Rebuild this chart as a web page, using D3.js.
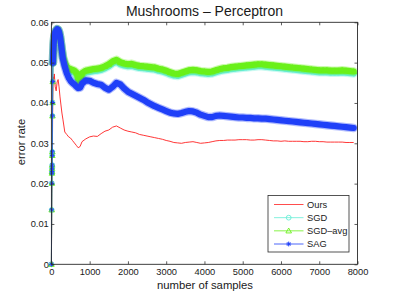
<!DOCTYPE html>
<html><head><meta charset="utf-8">
<script src="https://cdn.jsdelivr.net/npm/d3@7"></script>
<style>
html,body{margin:0;padding:0;background:#fff;}
text{font-family:"Liberation Sans",Arial,Helvetica,sans-serif;fill:#1a1a1a;}
</style></head>
<body><svg id="c" width="395" height="297"></svg>
<script>
const title = "Mushrooms – Perceptron";
const xLabel = "number of samples";
const yLabel = "error rate";
const xTicks = [0,1000,2000,3000,4000,5000,6000,7000,8000];
const yTicks = [0,0.01,0.02,0.03,0.04,0.05,0.06];
const seriesNames = ["Ours","SGD","SGD–avg","SAG"];

const samples = [0,8,12,15,17,19,21,23,25,28,31,35,40,
 50,60,75,
 100,125,150,175,200,225,250,275,300,
 350,400,450,500,550,600,650,700,750,800,
 900,1000,1100,1200,1300,1400,1500,1600,1700,1800,1900,2000,
 2100,2200,2300,2400,2500,2600,2700,2800,2900,3000,
 3100,3200,3300,3400,3500,3600,3700,3800,3900,4000,
 4100,4200,4300,4400,4500,4600,4700,4800,4900,5000,
 5100,5200,5300,5400,5500,5600,5700,5800,5900,6000,
 6100,6200,6300,6400,6500,6600,6700,6800,6900,7000,
 7100,7200,7300,7400,7500,7600,7700,7800,7900];

const ours = [0,0.0120,0.0176,0.0190,0.0205,0.0215,0.0230,0.0250,0.0270,0.0310,0.0350,0.0400,0.0440,
 0.0465,0.0450,0.0472,
 0.0440,0.0430,0.0452,0.0458,0.0440,0.0415,0.0395,0.0375,0.0360,
 0.0328,0.0322,0.0316,0.0313,0.0307,0.0301,0.0295,0.0289,0.0292,0.0304,
 0.0311,0.0316,0.0318,0.0317,0.0324,0.0330,0.0333,0.0340,0.0343,0.0338,0.0333,0.0330,
 0.0328,0.0326,0.0322,0.0320,0.0318,0.0316,0.0314,0.0312,0.0310,0.0307,
 0.0305,0.0302,0.0301,0.0300,0.0302,0.0303,0.0304,0.0302,0.0300,0.0301,
 0.0302,0.0304,0.0306,0.0307,0.0307,0.0308,0.0308,0.0308,0.0309,0.0309,
 0.0309,0.0308,0.0308,0.0309,0.0309,0.0308,0.0307,0.0306,0.0306,0.0305,
 0.0306,0.0305,0.0305,0.0305,0.0305,0.0304,0.0304,0.0305,0.0305,0.0304,
 0.0304,0.0303,0.0303,0.0303,0.0303,0.0303,0.0302,0.0302,0.0302];

const sgd = [0,0.0135,0.0201,0.0226,0.0230,0.0238,0.0246,0.0270,0.0279,0.0368,0.0401,0.0453,0.0500,
 0.0528,0.0548,0.0565,
 0.0575,0.0580,0.0583,0.0582,0.0576,0.0565,0.0548,0.0530,0.0513,
 0.0495,0.0485,0.0481,0.0479,0.0477,0.0475,0.0471,0.0457,0.0447,0.0469,
 0.0475,0.0477,0.0479,0.0480,0.0482,0.0486,0.0491,0.0498,0.0502,0.0496,0.0493,0.0491,
 0.0492,0.0489,0.0487,0.0486,0.0485,0.0484,0.0483,0.0480,0.0478,0.0475,
 0.0471,0.0468,0.0467,0.0470,0.0473,0.0476,0.0477,0.0476,0.0474,0.0473,
 0.0472,0.0473,0.0476,0.0479,0.0481,0.0482,0.0484,0.0485,0.0486,0.0487,
 0.0488,0.0489,0.0490,0.0491,0.0491,0.0490,0.0489,0.0488,0.0487,0.0486,
 0.0485,0.0484,0.0483,0.0482,0.0481,0.0480,0.0479,0.0478,0.0477,0.0476,
 0.0476,0.0476,0.0475,0.0475,0.0475,0.0476,0.0475,0.0474,0.0473];

const sgdAvg = [0,0.0135,0.0201,0.0226,0.0230,0.0238,0.0246,0.0270,0.0279,0.0368,0.0401,0.0453,0.0500,
 0.0528,0.0548,0.0565,
 0.0575,0.0580,0.0583,0.0582,0.0576,0.0565,0.0548,0.0530,0.0515,
 0.0500,0.0490,0.0486,0.0484,0.0482,0.0480,0.0476,0.0462,0.0452,0.0474,
 0.0480,0.0482,0.0484,0.0485,0.0487,0.0491,0.0496,0.0503,0.0507,0.0501,0.0498,0.0496,
 0.0497,0.0494,0.0492,0.0491,0.0490,0.0489,0.0488,0.0485,0.0483,0.0480,
 0.0476,0.0473,0.0472,0.0475,0.0478,0.0481,0.0482,0.0481,0.0479,0.0478,
 0.0477,0.0478,0.0481,0.0484,0.0486,0.0487,0.0489,0.0490,0.0491,0.0492,
 0.0493,0.0494,0.0495,0.0496,0.0496,0.0495,0.0494,0.0493,0.0492,0.0491,
 0.0490,0.0489,0.0488,0.0487,0.0486,0.0485,0.0484,0.0483,0.0482,0.0481,
 0.0481,0.0481,0.0480,0.0480,0.0480,0.0481,0.0480,0.0479,0.0478];

const sag = [0,0.0135,0.0201,0.0226,0.0230,0.0238,0.0246,0.0270,0.0279,0.0368,0.0401,0.0453,0.0500,
 0.0528,0.0548,0.0565,
 0.0575,0.0580,0.0583,0.0582,0.0576,0.0565,0.0548,0.0528,0.0510,
 0.0490,0.0474,0.0463,0.0455,0.0450,0.0446,0.0441,0.0437,0.0438,0.0448,
 0.0456,0.0455,0.0450,0.0447,0.0445,0.0438,0.0433,0.0440,0.0450,0.0446,0.0436,0.0428,
 0.0423,0.0418,0.0413,0.0408,0.0402,0.0397,0.0392,0.0388,0.0384,0.0380,
 0.0376,0.0374,0.0373,0.0375,0.0378,0.0380,0.0379,0.0376,0.0371,0.0368,
 0.0365,0.0365,0.0368,0.0369,0.0368,0.0367,0.0366,0.0365,0.0364,0.0364,
 0.0363,0.0363,0.0362,0.0362,0.0361,0.0361,0.0360,0.0359,0.0358,0.0357,
 0.0356,0.0355,0.0354,0.0353,0.0352,0.0351,0.0350,0.0349,0.0348,0.0347,
 0.0346,0.0345,0.0344,0.0343,0.0342,0.0341,0.0340,0.0339,0.0338];

const svg = d3.select("#c");
const L = 51.4, R = 357.5, T = 22.3, B = 264.3;
const x = d3.scaleLinear().domain([0,8000]).range([L,R]);
const y = d3.scaleLinear().domain([0,0.06]).range([B,T]);

const styles = [
  {name:seriesNames[0], values:ours,   color:"#ff2020", marker:null,  band:false},
  {name:seriesNames[1], values:sgd,    color:"#66eed6", marker:"circle", band:true},
  {name:seriesNames[2], values:sgdAvg, color:"#6af01a", marker:"triangle", band:true},
  {name:seriesNames[3], values:sag,    color:"#2040f8", marker:"star", band:true}
];

function drawMarker(g, type, cx, cy, color){
  if(type==="circle"){
    g.append("circle").attr("cx",cx).attr("cy",cy).attr("r",2.4)
      .attr("fill","none").attr("stroke",color).attr("stroke-width",0.9);
  } else if(type==="triangle"){
    const s=2.8;
    g.append("path").attr("d",`M${cx},${cy-s}L${cx+s},${cy+s*0.75}L${cx-s},${cy+s*0.75}Z`)
      .attr("fill","none").attr("stroke",color).attr("stroke-width",0.9);
  } else if(type==="star"){
    const s=2.4, d=1.7;
    g.append("path").attr("d",`M${cx-s},${cy}H${cx+s}M${cx},${cy-s}V${cy+s}M${cx-d},${cy-d}L${cx+d},${cy+d}M${cx-d},${cy+d}L${cx+d},${cy-d}`)
      .attr("fill","none").attr("stroke",color).attr("stroke-width",1);
  }
}

const clip = svg.append("clipPath").attr("id","pc").append("rect")
  .attr("x",L-4).attr("y",T-4).attr("width",R-L+8).attr("height",B-T+8);
const plot = svg.append("g").attr("clip-path","url(#pc)");
const line = d3.line().x((d,i)=>x(samples[i])).y(d=>y(d));

styles.forEach(s=>{
  const g = plot.append("g");
  if(s.band){
    const pts = s.values.map((v,i)=>[x(samples[i]),y(v)]).filter((p,i)=>samples[i]>=40);
    const bl = d3.line();
    g.append("path").attr("d",bl(pts)).attr("fill","none").attr("stroke",s.color)
      .attr("stroke-opacity",0.35).attr("stroke-width",8.5).attr("stroke-linejoin","round").attr("stroke-linecap","round");
    g.append("path").attr("d",bl(pts)).attr("fill","none").attr("stroke",s.color)
      .attr("stroke-width",6.2).attr("stroke-linejoin","round").attr("stroke-linecap","round");
  }
  g.append("path").attr("d",line(s.values)).attr("fill","none").attr("stroke",s.color)
    .attr("stroke-width",s.band?0.8:0.9).attr("stroke-linejoin","round");
  if(s.marker){
    s.values.forEach((v,i)=>drawMarker(g,s.marker,x(samples[i]),y(v),s.color));
  }
});

// axes
const ax = svg.append("g");
ax.append("g").attr("transform",`translate(0,${B})`)
  .call(d3.axisBottom(x).tickValues(xTicks).tickSize(-3).tickPadding(4).tickFormat(d3.format("d")));
ax.append("g").attr("transform",`translate(0,${T})`)
  .call(d3.axisTop(x).tickValues(xTicks).tickSize(-3).tickFormat(""));
ax.append("g").attr("transform",`translate(${L},0)`)
  .call(d3.axisLeft(y).tickValues(yTicks).tickSize(-3).tickPadding(2.6).tickFormat(d=>d===0?"0":d.toFixed(2)));
ax.append("g").attr("transform",`translate(${R},0)`)
  .call(d3.axisRight(y).tickValues(yTicks).tickSize(-3).tickFormat(""));
ax.selectAll(".domain").remove();
ax.selectAll(".tick line").attr("stroke","#333").attr("stroke-width",0.8);
ax.selectAll(".tick text").style("font-size","9.3px").attr("fill","#1a1a1a")
  .style("font-family","'Liberation Sans',Arial,sans-serif");
svg.append("rect").attr("x",L).attr("y",T).attr("width",R-L).attr("height",B-T)
  .attr("fill","none").attr("stroke","#2a2a2a").attr("stroke-width",0.9);

svg.append("text").attr("x",204.5).attr("y",15.5).attr("text-anchor","middle")
  .style("font-size","14px").text(title);
svg.append("text").attr("x",205).attr("y",288.5).attr("text-anchor","middle")
  .style("font-size","11.3px").text(xLabel);
svg.append("text").attr("transform","translate(25.3,142) rotate(-90)").attr("text-anchor","middle")
  .style("font-size","11.3px").text(yLabel);

// legend
const lg = svg.append("g");
lg.append("rect").attr("x",268).attr("y",195.5).attr("width",81).attr("height",56.5)
  .attr("fill","#fff").attr("stroke","#2a2a2a").attr("stroke-width",0.8);
const rowY = d3.scalePoint().domain(seriesNames).range([204.5,244]);
styles.forEach(s=>{
  const yy = rowY(s.name);
  lg.append("line").attr("x1",274).attr("x2",303.5).attr("y1",yy).attr("y2",yy)
    .attr("stroke",s.color).attr("stroke-width",0.8);
  if(s.marker) drawMarker(lg,s.marker,288.7,yy,s.color);
  lg.append("text").attr("x",307).attr("y",yy).attr("dy","0.35em")
    .style("font-size","9.3px").text(s.name);
});
</script></body></html>
